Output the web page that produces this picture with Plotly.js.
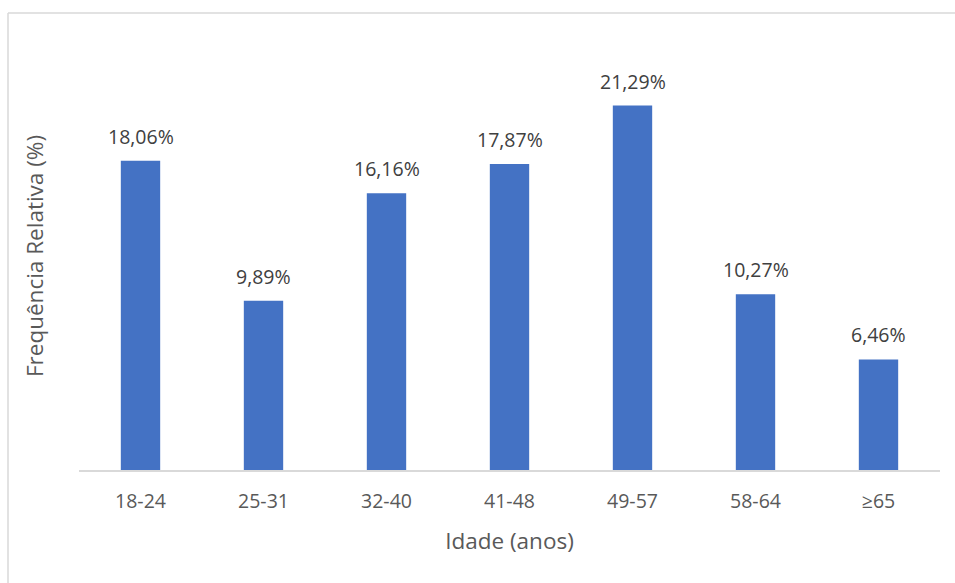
<!DOCTYPE html>
<html>
<head>
<meta charset="utf-8">
<script src="https://cdn.plot.ly/plotly-3.0.1.min.js"></script>
<style>html,body{margin:0;padding:0;background:#fff;}#chart{width:955px;height:583px;}</style>
</head>
<body>
<div id="chart"></div>
<script>
const categories = ["18-24", "25-31", "32-40", "41-48", "49-57", "58-64", "≥65"];
const values = [18.06, 9.89, 16.16, 17.87, 21.29, 10.27, 6.46];
const valueLabels = ["18,06%", "9,89%", "16,16%", "17,87%", "21,29%", "10,27%", "6,46%"];

const font = "'Open Sans', 'Noto Sans', sans-serif";

const trace = {
  type: "bar",
  x: categories,
  y: values,
  marker: {color: "#4472C4"},
  hoverinfo: "none"
};

const annotations = categories.map((c, i) => ({
  x: c, y: values[i], xref: "x", yref: "y",
  text: valueLabels[i], showarrow: false,
  yanchor: "bottom", yshift: 9,
  font: {family: font, size: 19.5, color: "#404040"}
}));

const layout = {
  width: 955,
  height: 583,
  margin: {l: 79, r: 15, t: 42, b: 113},
  paper_bgcolor: "#ffffff",
  plot_bgcolor: "#ffffff",
  showlegend: false,
  bargap: 0.68,
  font: {family: font, color: "#595959"},
  xaxis: {
    type: "category",
    showgrid: false,
    showline: true,
    linecolor: "#d9d9d9",
    linewidth: 1.5,
    ticks: "",
    ticklabelstandoff: 13,
    tickfont: {family: font, size: 19.5, color: "#595959"},
    title: {text: "Idade (anos)", font: {family: font, size: 22.5, color: "#595959"}, standoff: 20},
    fixedrange: true
  },
  yaxis: {
    range: [0, 25],
    showgrid: false,
    showline: false,
    zeroline: false,
    showticklabels: false,
    ticks: "",
    title: {text: "Frequência Relativa (%)", font: {family: font, size: 22.5, color: "#595959"}, standoff: 28},
    fixedrange: true
  },
  annotations: annotations,
  shapes: [
    {type: "line", xref: "paper", yref: "paper", x0: (8 - 79) / 861, x1: 1.1, y0: (470 - 13) / 428, y1: (470 - 13) / 428, line: {color: "#d9d9d9", width: 1.5}},
    {type: "line", xref: "paper", yref: "paper", x0: (8 - 79) / 861, x1: (8 - 79) / 861, y0: (470 - 13) / 428, y1: -0.4, line: {color: "#d9d9d9", width: 1.5}}
  ]
};

Plotly.newPlot("chart", [trace], layout, {displayModeBar: false, staticPlot: true});
</script>
</body>
</html>
